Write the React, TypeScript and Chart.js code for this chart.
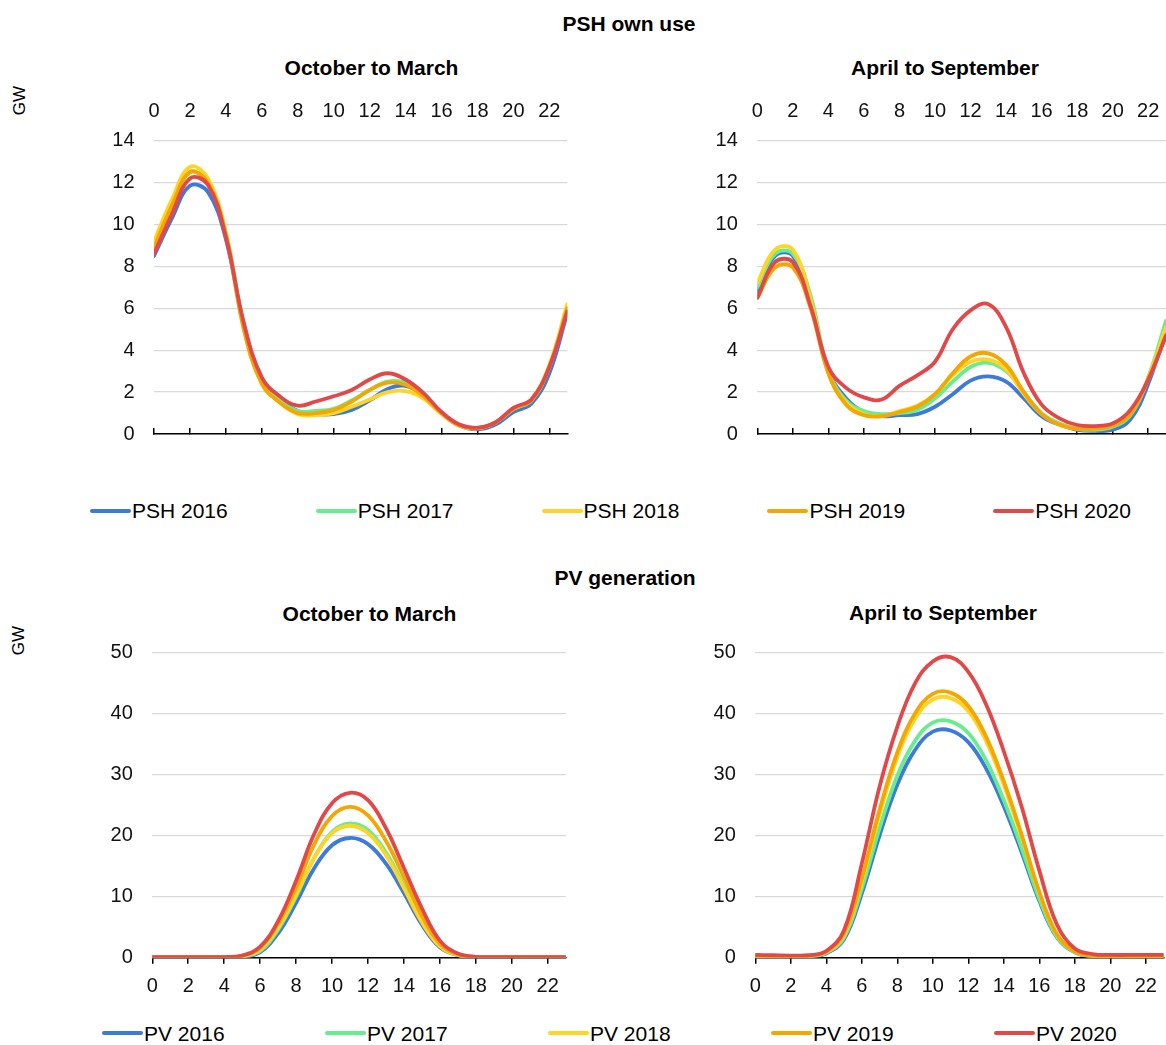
import React, { useEffect, useRef } from 'react';
import { Chart, registerables } from 'chart.js';

Chart.register(...registerables);

const FONT = "'Liberation Sans', Arial, Helvetica, sans-serif";

// ---------------- DATA ----------------
const hours = [0, 1, 2, 3, 4, 5, 6, 7, 8, 9, 10, 11, 12, 13, 14, 15, 16, 17, 18, 19, 20, 21, 22, 23];
const years = ['2016', '2017', '2018', '2019', '2020'];
const seriesColors = ['#3D7BDB', '#66EE8E', '#FFD426', '#F4A700', '#E34848'];

const pshYTicks = { max: 14, step: 2 };
const pvYTicks = { max: 50, step: 10 };
const xTickStep = 2;

// PSH own use, October to March (GW)
const pshWin2016 = [8.5, 10.3, 11.85, 11.55, 9.3, 5.2, 2.6, 1.7, 1.1, 0.95, 0.95, 1.15, 1.6, 2.15, 2.3, 1.85, 1.0, 0.4, 0.22, 0.45, 1.05, 1.45, 2.9, 5.8];
const pshWin2017 = [9.0, 10.9, 12.5, 12.0, 9.6, 5.2, 2.5, 1.6, 1.1, 1.1, 1.2, 1.6, 2.1, 2.5, 2.45, 1.85, 1.0, 0.4, 0.28, 0.55, 1.2, 1.6, 3.2, 6.0];
const pshWin2018 = [9.2, 11.2, 12.75, 12.2, 9.6, 5.0, 2.4, 1.5, 0.95, 0.9, 1.0, 1.3, 1.65, 2.0, 2.05, 1.7, 0.95, 0.4, 0.28, 0.55, 1.2, 1.65, 3.3, 6.2];
const pshWin2019 = [8.9, 10.9, 12.5, 12.0, 9.5, 5.0, 2.4, 1.5, 1.0, 1.0, 1.15, 1.55, 2.1, 2.45, 2.35, 1.8, 1.0, 0.4, 0.28, 0.55, 1.2, 1.6, 3.2, 6.0];
const pshWin2020 = [8.6, 10.5, 12.2, 11.9, 9.4, 5.3, 2.7, 1.8, 1.35, 1.55, 1.8, 2.1, 2.6, 2.9, 2.6, 1.95, 1.05, 0.45, 0.3, 0.55, 1.25, 1.65, 3.2, 5.85];

// PSH own use, April to September (GW)
const pshSum2016 = [6.8, 8.5, 8.5, 6.3, 3.0, 1.7, 1.05, 0.85, 0.9, 0.95, 1.3, 1.9, 2.55, 2.75, 2.5, 1.7, 0.85, 0.45, 0.2, 0.15, 0.2, 0.7, 2.4, 5.0];
const pshSum2017 = [7.0, 8.6, 8.6, 6.6, 3.0, 1.6, 1.1, 0.95, 1.0, 1.15, 1.7, 2.5, 3.2, 3.4, 3.0, 2.0, 1.0, 0.5, 0.25, 0.2, 0.35, 0.9, 2.7, 5.4];
const pshSum2018 = [7.2, 8.8, 8.8, 6.4, 2.9, 1.5, 0.95, 0.85, 1.1, 1.35, 1.9, 2.8, 3.45, 3.55, 3.1, 1.9, 0.95, 0.45, 0.25, 0.25, 0.4, 1.0, 2.7, 5.1];
const pshSum2019 = [6.5, 7.95, 7.95, 6.0, 2.9, 1.4, 0.9, 0.85, 1.05, 1.3, 1.9, 2.9, 3.7, 3.85, 3.3, 2.0, 0.95, 0.45, 0.25, 0.25, 0.4, 0.95, 2.6, 4.7];
const pshSum2020 = [6.5, 8.2, 8.2, 6.1, 3.2, 2.2, 1.75, 1.65, 2.3, 2.8, 3.45, 5.0, 5.9, 6.2, 5.1, 2.9, 1.4, 0.75, 0.43, 0.38, 0.5, 1.15, 2.6, 4.7];

// PV generation, October to March (GW)
const pvWin2016 = [0.05, 0.05, 0.05, 0.05, 0.05, 0.1, 0.9, 4.0, 9.0, 14.6, 18.4, 19.6, 18.6, 15.4, 10.6, 5.4, 1.7, 0.4, 0.1, 0.05, 0.05, 0.05, 0.05, 0.05];
const pvWin2017 = [0.05, 0.05, 0.05, 0.05, 0.05, 0.15, 1.1, 4.6, 10.0, 16.3, 20.6, 22.0, 20.9, 17.2, 11.8, 6.0, 1.9, 0.45, 0.1, 0.05, 0.05, 0.05, 0.05, 0.05];
const pvWin2018 = [0.05, 0.05, 0.05, 0.05, 0.05, 0.2, 1.3, 4.9, 10.3, 16.3, 20.4, 21.6, 20.4, 16.8, 11.4, 5.8, 1.9, 0.45, 0.1, 0.05, 0.05, 0.05, 0.05, 0.05];
const pvWin2019 = [0.05, 0.05, 0.05, 0.05, 0.05, 0.3, 1.6, 5.6, 11.5, 18.5, 23.2, 24.7, 23.3, 19.1, 13.2, 6.9, 2.3, 0.55, 0.12, 0.05, 0.05, 0.05, 0.05, 0.05];
const pvWin2020 = [0.1, 0.1, 0.1, 0.1, 0.1, 0.35, 1.8, 6.0, 12.6, 20.2, 25.3, 27.0, 25.8, 21.2, 14.7, 8.1, 2.8, 0.7, 0.15, 0.1, 0.1, 0.1, 0.1, 0.1];

// PV generation, April to September (GW)
const pvSum2016 = [0.1, 0.05, 0.05, 0.2, 0.7, 3.0, 10.5, 20.0, 28.3, 34.0, 37.0, 37.2, 35.3, 31.0, 24.8, 17.3, 9.3, 3.3, 0.9, 0.2, 0.1, 0.1, 0.1, 0.1];
const pvSum2017 = [0.15, 0.1, 0.1, 0.25, 0.8, 3.3, 11.3, 21.2, 29.8, 35.5, 38.5, 38.7, 36.8, 32.3, 25.8, 18.0, 9.7, 3.4, 0.9, 0.25, 0.15, 0.15, 0.15, 0.15];
const pvSum2018 = [0.15, 0.1, 0.1, 0.25, 0.9, 3.7, 12.5, 23.4, 32.8, 39.1, 42.3, 42.5, 40.4, 35.5, 28.3, 19.8, 10.6, 3.7, 1.0, 0.3, 0.2, 0.2, 0.2, 0.2];
const pvSum2019 = [0.2, 0.15, 0.15, 0.3, 1.0, 4.0, 13.0, 24.2, 33.6, 40.0, 43.2, 43.4, 41.2, 36.2, 28.9, 20.2, 10.8, 3.8, 1.0, 0.3, 0.25, 0.25, 0.25, 0.25];
const pvSum2020 = [0.45, 0.4, 0.35, 0.4, 1.1, 4.5, 15.4, 28.0, 37.8, 44.9, 48.5, 49.2, 46.8, 41.5, 33.8, 24.8, 14.3, 5.4, 1.5, 0.6, 0.45, 0.45, 0.45, 0.45];

const pshWinter = [pshWin2016, pshWin2017, pshWin2018, pshWin2019, pshWin2020];
const pshSummer = [pshSum2016, pshSum2017, pshSum2018, pshSum2019, pshSum2020];
const pvWinter = [pvWin2016, pvWin2017, pvWin2018, pvWin2019, pvWin2020];
const pvSummer = [pvSum2016, pvSum2017, pvSum2018, pvSum2019, pvSum2020];

// ---------------- CHART PANEL ----------------
type PanelProps = {
  series: number[][];
  prefix: string;
  left: number;
  top: number;
  width: number;
  height: number;
  yWidth: number;
  yMax: number;
  yStep: number;
  labelsOnTop: boolean;
  topSize: number;
  bottomSize: number;
  padTop: number;
  padRight: number;
};

const tickFont = { family: FONT, size: 20 };
const TEXT = '#111111';

function Panel(p: PanelProps) {
  const ref = useRef<HTMLCanvasElement>(null);
  useEffect(() => {
    if (!ref.current) return;
    const datasets = p.series.map((s, i) => ({
      label: `${p.prefix} ${years[i]}`,
      data: hours.map((h, j) => ({ x: h, y: s[j] })),
      borderColor: seriesColors[i],
      backgroundColor: seriesColors[i],
      borderWidth: 3.8,
      pointRadius: 0,
      pointHoverRadius: 0,
      tension: 0.4,
      fill: false,
      order: 4 - i,
      borderCapStyle: 'round' as const,
      borderJoinStyle: 'round' as const,
    }));

    const yScale = {
      type: 'linear' as const,
      position: 'left' as const,
      min: 0,
      max: p.yMax,
      ticks: { stepSize: p.yStep, padding: 19.5, font: tickFont, color: TEXT },
      grid: { color: '#d9d9d9', lineWidth: 1.3, drawTicks: false, z: -1 },
      border: { display: false },
      afterFit: (s: any) => {
        s.width = p.yWidth;
        s.paddingTop = 0;
        s.paddingBottom = 0;
      },
    };

    const scales: any = { y: yScale };
    if (p.labelsOnTop) {
      scales.xTop = {
        type: 'linear',
        position: 'top',
        min: 0,
        max: 23,
        ticks: { stepSize: xTickStep, includeBounds: false, padding: 0, font: tickFont, color: TEXT, maxRotation: 0, autoSkip: false },
        grid: { display: false, drawTicks: true, tickLength: 17 },
        border: { display: false },
        afterFit: (s: any) => {
          s.height = p.topSize;
          s.paddingLeft = 0;
          s.paddingRight = 0;
        },
      };
      scales.x = {
        type: 'linear',
        position: 'bottom',
        min: 0,
        max: 23,
        ticks: { stepSize: xTickStep, includeBounds: false, display: false, autoSkip: false },
        grid: { drawOnChartArea: false, drawTicks: true, tickLength: -6, color: '#000000', lineWidth: 1.5 },
        border: { display: true, color: '#000000', width: 1.6 },
        afterFit: (s: any) => {
          s.height = p.bottomSize;
          s.paddingLeft = 0;
          s.paddingRight = 0;
        },
      };
    } else {
      scales.x = {
        type: 'linear',
        position: 'bottom',
        min: 0,
        max: 23,
        ticks: { stepSize: xTickStep, includeBounds: false, padding: 11, font: tickFont, color: TEXT, maxRotation: 0, autoSkip: false },
        grid: { drawOnChartArea: false, drawTicks: true, tickLength: 6, color: '#000000', lineWidth: 1.5 },
        border: { display: true, color: '#000000', width: 1.6 },
        afterFit: (s: any) => {
          s.height = p.bottomSize;
          s.paddingLeft = 0;
          s.paddingRight = 0;
        },
      };
    }

    const chart = new Chart(ref.current, {
      type: 'line',
      data: { datasets },
      options: {
        responsive: false,
        animation: false,
        devicePixelRatio: 1,
        layout: { padding: { left: 0, top: p.padTop, right: p.padRight, bottom: 0 } },
        plugins: { legend: { display: false }, title: { display: false }, tooltip: { enabled: false } },
        events: [],
        scales,
      },
    });
    return () => chart.destroy();
  }, []);
  return (
    <canvas
      ref={ref}
      width={p.width}
      height={p.height}
      style={{ position: 'absolute', left: p.left, top: p.top, width: p.width, height: p.height, display: 'block' }}
    />
  );
}

// ---------------- TEXT HELPERS ----------------
function Label({ text, cx, cy, size, bold }: { text: string; cx: number; cy: number; size: number; bold?: boolean }) {
  return (
    <div
      style={{
        position: 'absolute',
        left: cx - 300,
        width: 600,
        top: cy - 0.4885 * size,
        fontSize: size,
        lineHeight: `${size}px`,
        fontWeight: bold ? 700 : 400,
        fontFamily: FONT,
        textAlign: 'center',
        whiteSpace: 'nowrap',
        color: '#000',
      }}
    >
      {text}
    </div>
  );
}

function VLabel({ text, cx, cy, size }: { text: string; cx: number; cy: number; size: number }) {
  return (
    <div
      style={{
        position: 'absolute',
        left: cx - 50,
        width: 100,
        top: cy - size / 2,
        height: size,
        fontSize: size,
        lineHeight: `${size}px`,
        fontFamily: FONT,
        textAlign: 'center',
        whiteSpace: 'nowrap',
        color: '#000',
        transform: 'rotate(-90deg)',
        transformOrigin: '50% 50%',
      }}
    >
      {text}
    </div>
  );
}

function Legend({ prefix, startX, spacing, cy }: { prefix: string; startX: number; spacing: number; cy: number }) {
  const size = 21;
  return (
    <>
      {years.map((y, i) => (
        <div
          key={y}
          style={{
            position: 'absolute',
            left: startX + i * spacing,
            top: cy - size / 2,
            height: size,
            display: 'flex',
            alignItems: 'center',
            whiteSpace: 'nowrap',
            fontFamily: FONT,
            fontSize: size,
            lineHeight: `${size}px`,
            color: '#000',
          }}
        >
          <span style={{ display: 'inline-block', width: 41, height: 4, borderRadius: 2, background: seriesColors[i], marginRight: 1 }} />
          <span>{`${prefix} ${y}`}</span>
        </div>
      ))}
    </>
  );
}

export default function App() {
  return (
    <div style={{ position: 'absolute', left: 0, top: 0, width: 1166, height: 1045, overflow: 'hidden', background: '#fff' }}>
      <Label text="PSH own use" cx={629} cy={23.3} size={21} bold />
      <Label text="October to March" cx={371.5} cy={67} size={21} bold />
      <Label text="April to September" cx={945} cy={67} size={21} bold />
      <VLabel text="GW" cx={19} cy={100} size={17} />

      <Panel series={pshWinter} prefix="PSH" left={100} top={90} width={470} height={350} yWidth={54} yMax={pshYTicks.max} yStep={pshYTicks.step} labelsOnTop topSize={50.7} bottomSize={6} padTop={0} padRight={2.7} />
      <Panel series={pshSummer} prefix="PSH" left={700} top={90} width={466} height={350} yWidth={57.3} yMax={pshYTicks.max} yStep={pshYTicks.step} labelsOnTop topSize={50.7} bottomSize={6} padTop={0} padRight={0} />

      <Legend prefix="PSH" startX={90} spacing={225.8} cy={510.5} />

      <Label text="PV generation" cx={625} cy={577} size={21} bold />
      <Label text="October to March" cx={369.5} cy={613} size={21} bold />
      <Label text="April to September" cx={943} cy={612} size={21} bold />
      <VLabel text="GW" cx={18} cy={640} size={17} />

      <Panel series={pvWinter} prefix="PV" left={100} top={630} width={470} height={380} yWidth={52.3} yMax={pvYTicks.max} yStep={pvYTicks.step} labelsOnTop={false} topSize={0} bottomSize={52.3} padTop={22.3} padRight={4.3} />
      <Panel series={pvSummer} prefix="PV" left={700} top={630} width={466} height={380} yWidth={55.3} yMax={pvYTicks.max} yStep={pvYTicks.step} labelsOnTop={false} topSize={0} bottomSize={52.3} padTop={22.3} padRight={2.5} />

      <Legend prefix="PV" startX={102} spacing={223} cy={1033} />
    </div>
  );
}
